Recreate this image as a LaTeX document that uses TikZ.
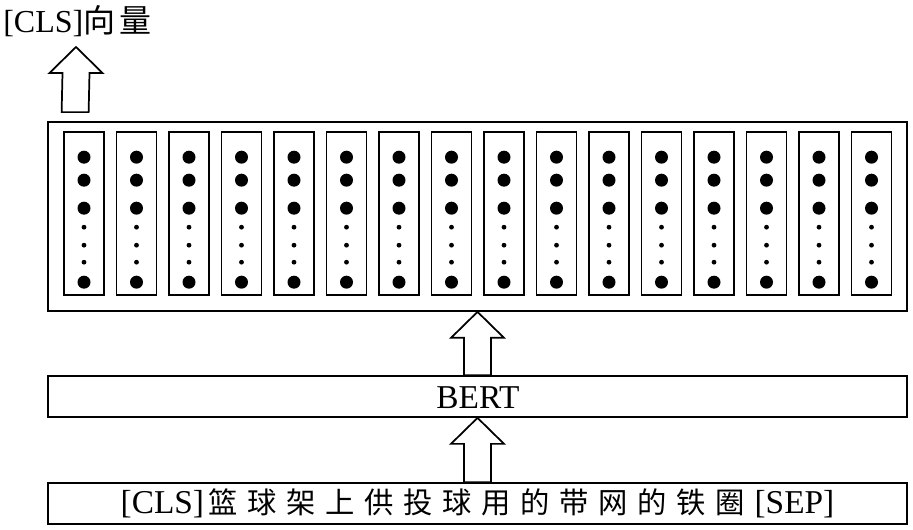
\documentclass[tikz,border=0pt]{standalone}
\usepackage{fontspec}
\setmainfont{Liberation Serif}
\newfontfamily\cjk{Noto Sans CJK SC}
\usetikzlibrary{calc}
\usetikzlibrary{fit}

\newcommand{\zsp}{\hspace{7.3pt}}
% hollow block arrow from #1 (tail) to #2 (tip)
\newcommand{\blockarrow}[2]{%
  \draw[hollow] ($(#1)+(-13.5,0)$) -- ($(#2)+(-13.5,26)$) -- ($(#2)+(-26.5,26)$) -- (#2)
    -- ($(#2)+(26.5,26)$) -- ($(#2)+(13.5,26)$) -- ($(#1)+(13.5,0)$) -- cycle;}

\tikzset{
  box/.style={draw, line width=1.3pt, inner sep=0pt},
  col/.style={draw, line width=1.2pt, inner sep=0pt},
  hollow/.style={draw, line width=1.3pt, fill=white, line join=miter},
  lbl/.style={inner sep=0pt, font=\fontsize{25}{28}\selectfont},
}

\begin{document}
\begin{tikzpicture}[x=0.75pt,y=0.75pt,yscale=-1,xscale=1]
\useasboundingbox (0,0) rectangle (913,530);

% boxes
\node[box, fit={(48,122) (907,311)}] (enc) {};
\node[box, fit={(48,376) (907,417)}] (bert) {};
\node[box, fit={(48,483) (907,524)}] (inp) {};

% token vectors
\foreach \i in {0,...,15} {
  \node[col, fit={(64+52.5*\i,132) (104+52.5*\i,295)}] (c\i) {};
  \foreach \dy in {26,49,77,151}
    \fill ($(c\i.north)+(0,\dy)$) circle (6.5);
  \foreach \dy in {96,114,131}
    \fill ($(c\i.north)+(0,\dy)$) circle (2.4);
}

% Text Node
\node[lbl, anchor=base west, font=\fontsize{24}{28}\selectfont] (cls) at (3,33) {[CLS]{\cjk\fontsize{24}{26}\selectfont 向\hspace{3.5pt}量}};
% Text Node
\node[lbl, anchor=base] (bertlbl) at (478,408) {BERT};
% Text Node
\node[lbl, anchor=base] (sent) at (477.5,513) {[CLS]\hspace{3pt}{\cjk\fontsize{22}{26}\selectfont 篮\zsp 球\zsp 架\zsp 上\zsp 供\zsp 投\zsp 球\zsp 用\zsp 的\zsp 带\zsp 网\zsp 的\zsp 铁\zsp 圈}\hspace{7pt}[SEP]};

% arrows
\coordinate (a0) at ($(enc.north west)+(28,-9)$);
\coordinate (a1) at (76,47);
\blockarrow{a0}{a1}
\blockarrow{bert.north}{enc.south}
\blockarrow{inp.north}{bert.south}

\end{tikzpicture}
\end{document}
